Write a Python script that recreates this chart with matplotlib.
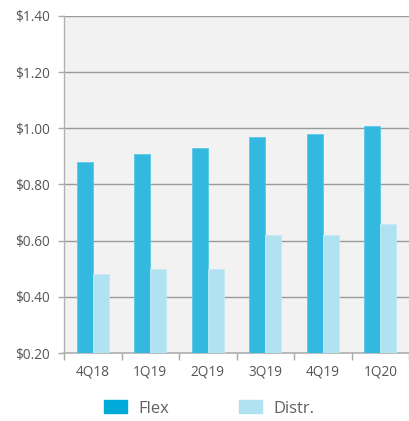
import numpy as np
import matplotlib.pyplot as plt
from matplotlib.patches import Patch

quarters = ["4Q18", "1Q19", "2Q19", "3Q19", "4Q19", "1Q20"]
flex = [0.88, 0.91, 0.93, 0.97, 0.98, 1.01]
distr = [0.48, 0.50, 0.50, 0.62, 0.62, 0.66]
yticks = [0.20, 0.40, 0.60, 0.80, 1.00, 1.20, 1.40]

plt.rcParams['font.family'] = ['Open Sans', 'DejaVu Sans']

fig = plt.figure(figsize=(4.09, 4.21), dpi=100)
ax = fig.add_axes([64/409, 68/421, 1 - 64/409, (353-16)/421])
ax.set_facecolor('#f2f2f2')

x = np.arange(len(quarters))
w = 0.28
ax.bar(x - w/2, flex, w, color='#33b8e0', edgecolor='#5ec7e8', linewidth=0.6, zorder=3)
ax.bar(x + w/2, distr, w, color='#b0e2f2', edgecolor='#c4eaf6', linewidth=0.6, zorder=3)

ax.set_ylim(0.20, 1.40)
ax.set_xlim(-0.5, len(quarters) - 0.5)
ax.set_yticks(yticks)
ax.set_yticklabels(["${:.2f}".format(v) for v in yticks])
ax.yaxis.grid(True, color='#9a9a9a', linewidth=1, zorder=0)
ax.set_axisbelow(True)

ax.set_xticks(x)
ax.set_xticklabels(quarters)
ax.set_xticks(np.arange(len(quarters) + 1) - 0.5, minor=True)
ax.tick_params(axis='x', which='major', length=0, pad=8, labelsize=9.8, labelcolor='#555555')
ax.tick_params(axis='x', which='minor', length=5, width=1, color='#a8a8a8')
ax.tick_params(axis='y', length=4, width=1, color='#a8a8a8', pad=6, labelsize=9.8, labelcolor='#555555')

for s in ['top', 'right']:
    ax.spines[s].set_visible(False)
ax.spines['left'].set_color('#b0b0b0')
ax.spines['bottom'].set_color('#b0b0b0')
ax.spines['left'].set_linewidth(1)
ax.spines['bottom'].set_linewidth(1.2)

handles = [Patch(color='#00aad8', label='Flex'), Patch(color='#b0e2f2', label='Distr.')]
fig.legend(handles=handles, loc='center left', bbox_to_anchor=(104/409, 0.03), ncol=2,
           frameon=False, fontsize=12, labelcolor='#606060', handlelength=1.4,
           handleheight=0.85, columnspacing=4.2, handletextpad=0.65,
           borderpad=0, borderaxespad=0)

fig.savefig('out.png', dpi=100)
